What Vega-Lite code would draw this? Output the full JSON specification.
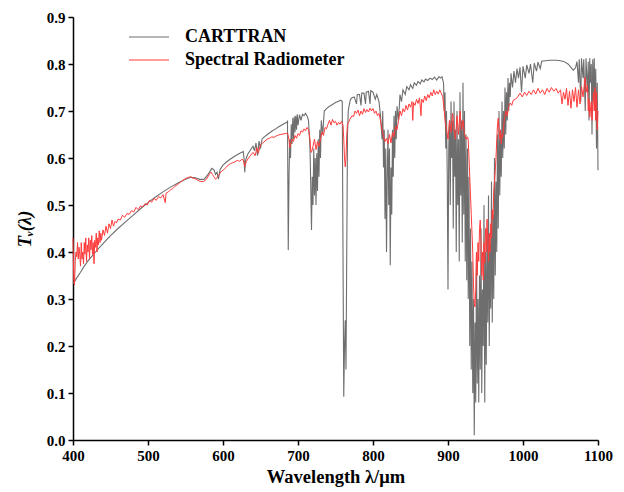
{
"$schema": "https://vega.github.io/schema/vega-lite/v6.json",
"autosize": "none",
"width": 525,
"height": 423,
"padding": {"left": 73, "top": 17, "right": 26, "bottom": 52},
"background": "white",
"datasets": {
"c": [[400,0.332],[405,0.345],[410,0.357],[415,0.37],[420,0.381],[430,0.4],[440,0.418],[450,0.435],[460,0.45],[470,0.464],[480,0.478],[490,0.492],[500,0.505],[510,0.517],[520,0.528],[530,0.538],[540,0.547],[550,0.555],[557,0.559],[563,0.558],[570,0.554],[575,0.555],[580,0.565],[585,0.578],[588,0.575],[590,0.565],[592,0.57],[594,0.555],[596,0.575],[598,0.58],[600,0.585],[605,0.592],[610,0.598],[615,0.603],[620,0.608],[625,0.612],[627,0.614],[628,0.6],[629,0.57],[630,0.595],[633,0.608],[637,0.618],[640,0.625],[642,0.615],[644,0.632],[646,0.605],[648,0.636],[650,0.62],[652,0.64],[655,0.645],[660,0.651],[665,0.657],[670,0.662],[675,0.667],[680,0.672],[685,0.676],[686,0.678],[687,0.404],[688,0.56],[689,0.64],[690,0.6],[691,0.672],[692,0.63],[693,0.685],[694,0.64],[695,0.688],[696,0.655],[697,0.69],[698,0.66],[699,0.693],[700,0.67],[702,0.692],[704,0.68],[706,0.693],[708,0.69],[710,0.695],[712,0.69],[714,0.68],[716,0.62],[717,0.54],[718,0.447],[719,0.56],[720,0.5],[721,0.62],[722,0.52],[723,0.6],[724,0.5],[725,0.61],[726,0.53],[727,0.64],[728,0.56],[729,0.66],[730,0.6],[731,0.68],[733,0.65],[735,0.7],[738,0.705],[742,0.71],[746,0.714],[750,0.718],[754,0.721],[757,0.723],[759,0.72],[760,0.4],[761,0.092],[762,0.2],[763,0.255],[764,0.15],[765,0.4],[766,0.65],[767,0.7],[768,0.71],[770,0.725],[772,0.728],[775,0.73],[778,0.715],[779,0.735],[782,0.735],[784,0.712],[785,0.738],[788,0.738],[790,0.715],[791,0.74],[794,0.742],[796,0.715],[797,0.743],[800,0.74],[803,0.725],[805,0.735],[808,0.72],[810,0.69],[812,0.64],[813,0.7],[814,0.58],[815,0.66],[816,0.47],[817,0.62],[818,0.4],[819,0.56],[820,0.66],[821,0.5],[822,0.62],[823,0.372],[824,0.58],[825,0.48],[826,0.66],[827,0.56],[828,0.69],[829,0.6],[830,0.7],[831,0.64],[832,0.71],[834,0.68],[836,0.735],[838,0.72],[840,0.745],[843,0.735],[845,0.752],[848,0.745],[850,0.756],[853,0.748],[855,0.76],[858,0.755],[860,0.763],[863,0.758],[865,0.766],[868,0.762],[870,0.768],[873,0.765],[876,0.77],[879,0.767],[882,0.772],[885,0.766],[888,0.773],[890,0.77],[892,0.773],[894,0.76],[895,0.7],[896,0.74],[897,0.62],[898,0.7],[899,0.56],[900,0.32],[901,0.62],[902,0.68],[903,0.5],[904,0.72],[905,0.6],[906,0.68],[907,0.45],[908,0.72],[909,0.56],[910,0.66],[911,0.4],[912,0.7],[913,0.5],[914,0.64],[915,0.38],[916,0.74],[917,0.52],[918,0.68],[919,0.42],[920,0.76],[921,0.48],[922,0.7],[923,0.38],[924,0.65],[925,0.34],[926,0.62],[927,0.3],[928,0.56],[929,0.2],[930,0.45],[931,0.15],[932,0.38],[933,0.1],[934,0.3],[935,0.01],[936,0.25],[937,0.08],[938,0.4],[939,0.12],[940,0.3],[941,0.08],[942,0.35],[943,0.15],[944,0.45],[945,0.1],[946,0.32],[947,0.2],[948,0.5],[949,0.08],[950,0.4],[951,0.16],[952,0.45],[953,0.25],[954,0.52],[955,0.2],[956,0.42],[957,0.28],[958,0.55],[959,0.25],[960,0.48],[961,0.3],[962,0.6],[963,0.35],[964,0.55],[965,0.4],[966,0.65],[967,0.45],[968,0.7],[969,0.52],[970,0.65],[971,0.56],[972,0.72],[973,0.6],[974,0.7],[975,0.62],[976,0.75],[977,0.65],[978,0.74],[979,0.68],[980,0.77],[981,0.7],[982,0.76],[983,0.73],[984,0.78],[986,0.75],[988,0.785],[990,0.76],[992,0.79],[994,0.77],[996,0.793],[998,0.74],[1000,0.795],[1003,0.77],[1005,0.798],[1008,0.78],[1010,0.8],[1013,0.76],[1015,0.802],[1018,0.785],[1020,0.804],[1023,0.79],[1025,0.806],[1030,0.807],[1035,0.808],[1040,0.808],[1045,0.808],[1050,0.807],[1055,0.805],[1060,0.8],[1064,0.793],[1067,0.787],[1070,0.792],[1072,0.805],[1074,0.76],[1075,0.81],[1077,0.72],[1078,0.812],[1080,0.77],[1081,0.81],[1083,0.7],[1084,0.812],[1086,0.74],[1087,0.805],[1088,0.68],[1089,0.812],[1090,0.76],[1091,0.8],[1092,0.65],[1093,0.81],[1094,0.72],[1095,0.812],[1096,0.7],[1097,0.79],[1098,0.62],[1099,0.76],[1100,0.574]],
"r": [[400,0.43],[401,0.34],[402,0.33],[403,0.38],[404,0.4],[405,0.39],[406,0.42],[407,0.385],[408,0.41],[409,0.395],[410,0.37],[411,0.42],[412,0.385],[413,0.4],[414,0.375],[415,0.42],[416,0.395],[417,0.43],[418,0.38],[419,0.415],[420,0.4],[421,0.43],[422,0.385],[423,0.425],[424,0.405],[425,0.435],[426,0.395],[427,0.42],[428,0.375],[429,0.425],[430,0.41],[431,0.44],[432,0.4],[433,0.43],[434,0.415],[435,0.445],[436,0.42],[437,0.44],[438,0.425],[440,0.447],[442,0.435],[444,0.455],[446,0.44],[448,0.46],[450,0.45],[452,0.468],[454,0.455],[456,0.465],[458,0.462],[460,0.47],[463,0.468],[466,0.478],[469,0.474],[472,0.482],[475,0.48],[478,0.488],[481,0.485],[484,0.495],[487,0.49],[490,0.498],[493,0.496],[496,0.503],[499,0.5],[502,0.51],[505,0.506],[508,0.514],[511,0.51],[514,0.518],[517,0.515],[520,0.522],[523,0.505],[524,0.525],[527,0.528],[530,0.532],[533,0.535],[536,0.54],[539,0.543],[542,0.547],[545,0.551],[548,0.554],[551,0.557],[554,0.559],[557,0.56],[560,0.557],[563,0.556],[566,0.553],[570,0.55],[574,0.55],[578,0.555],[582,0.566],[584,0.57],[586,0.565],[588,0.56],[590,0.555],[592,0.558],[595,0.565],[598,0.572],[601,0.575],[604,0.58],[607,0.585],[610,0.588],[613,0.59],[616,0.592],[619,0.595],[622,0.593],[625,0.597],[627,0.596],[629,0.582],[631,0.592],[634,0.6],[637,0.606],[640,0.612],[643,0.605],[645,0.622],[647,0.61],[650,0.628],[653,0.632],[656,0.636],[659,0.64],[662,0.642],[665,0.645],[668,0.644],[671,0.647],[674,0.649],[677,0.65],[680,0.651],[683,0.652],[686,0.653],[688,0.64],[689,0.622],[690,0.628],[692,0.64],[694,0.635],[696,0.648],[698,0.642],[700,0.652],[702,0.648],[704,0.658],[706,0.655],[708,0.662],[710,0.658],[712,0.665],[714,0.66],[716,0.64],[717,0.615],[718,0.612],[720,0.625],[722,0.64],[724,0.618],[726,0.635],[728,0.625],[730,0.64],[732,0.655],[734,0.648],[736,0.665],[738,0.662],[740,0.672],[742,0.68],[744,0.67],[746,0.682],[748,0.675],[750,0.678],[752,0.67],[754,0.676],[756,0.672],[758,0.678],[760,0.67],[761,0.64],[762,0.6],[763,0.581],[764,0.6],[765,0.65],[766,0.672],[768,0.678],[770,0.685],[772,0.69],[774,0.688],[776,0.7],[778,0.695],[780,0.702],[782,0.69],[784,0.7],[786,0.693],[788,0.705],[790,0.697],[792,0.703],[794,0.698],[796,0.706],[798,0.7],[800,0.705],[802,0.695],[804,0.7],[806,0.69],[808,0.695],[810,0.68],[812,0.66],[814,0.645],[816,0.635],[818,0.642],[820,0.63],[822,0.65],[824,0.632],[826,0.655],[828,0.645],[830,0.668],[832,0.66],[834,0.68],[836,0.7],[838,0.69],[840,0.705],[842,0.698],[844,0.712],[846,0.702],[848,0.715],[850,0.708],[852,0.72],[853,0.68],[854,0.718],[856,0.712],[858,0.725],[860,0.716],[862,0.728],[864,0.69],[865,0.725],[867,0.718],[869,0.732],[871,0.722],[873,0.735],[875,0.728],[877,0.74],[879,0.732],[881,0.745],[883,0.735],[885,0.742],[887,0.736],[889,0.745],[891,0.738],[893,0.73],[895,0.7],[896,0.68],[898,0.66],[900,0.64],[902,0.68],[904,0.655],[906,0.695],[908,0.66],[910,0.64],[912,0.69],[914,0.65],[916,0.7],[918,0.66],[920,0.68],[922,0.65],[924,0.64],[926,0.645],[927,0.638],[929,0.56],[931,0.48],[933,0.4],[934,0.33],[935,0.29],[936,0.283],[937,0.32],[938,0.4],[939,0.35],[940,0.42],[941,0.38],[942,0.45],[943,0.468],[944,0.42],[945,0.35],[946,0.4],[947,0.34],[948,0.42],[949,0.377],[950,0.45],[951,0.4],[952,0.47],[953,0.43],[954,0.38],[955,0.44],[956,0.4],[957,0.46],[958,0.43],[959,0.49],[960,0.47],[961,0.53],[962,0.55],[963,0.574],[964,0.6],[965,0.64],[966,0.67],[967,0.685],[968,0.66],[969,0.64],[970,0.66],[971,0.63],[972,0.65],[973,0.645],[975,0.68],[977,0.7],[979,0.69],[981,0.71],[983,0.717],[985,0.712],[987,0.723],[990,0.725],[993,0.73],[996,0.738],[999,0.73],[1002,0.74],[1005,0.733],[1008,0.742],[1011,0.735],[1014,0.745],[1017,0.736],[1020,0.748],[1023,0.738],[1026,0.745],[1029,0.735],[1032,0.748],[1035,0.74],[1038,0.75],[1041,0.742],[1044,0.748],[1047,0.738],[1050,0.745],[1052,0.715],[1054,0.74],[1056,0.725],[1058,0.748],[1060,0.712],[1062,0.742],[1064,0.706],[1066,0.745],[1068,0.72],[1070,0.75],[1072,0.708],[1074,0.745],[1076,0.715],[1078,0.752],[1080,0.73],[1082,0.76],[1083,0.772],[1084,0.74],[1086,0.755],[1087,0.7],[1088,0.725],[1089,0.687],[1091,0.72],[1092,0.68],[1094,0.74],[1095,0.7],[1096,0.75],[1097,0.68],[1098,0.74],[1099,0.66],[1100,0.7]]
},
"layer": [
{
"data": {"name": "c"},
"transform": [{"calculate": "datum[0]", "as": "w"}, {"calculate": "datum[1]", "as": "t"}, {"calculate": "'CARTTRAN'", "as": "s"}],
"mark": {"type": "line", "strokeWidth": 1.1},
"encoding": {
"x": {"field": "w", "type": "quantitative", "scale": {"domain": [400, 1100], "nice": false}, "axis": {"values": [400,500,600,700,800,900,1000,1100], "format": "d", "labelFlush": false, "title": "Wavelength λ/μm"}},
"y": {"field": "t", "type": "quantitative", "scale": {"domain": [0, 0.9], "nice": false}, "axis": {"values": [0,0.1,0.2,0.3,0.4,0.5,0.6,0.7,0.8,0.9], "format": ".1f", "labelFlush": false, "title": "Tᵥ(λ)", "titleFontStyle": "italic"}},
"color": {"field": "s", "type": "nominal", "scale": {"domain": ["CARTTRAN", "Spectral Radiometer"], "range": ["#6e6e6e", "#ff3b3b"]}, "legend": {"title": null, "orient": "none", "legendX": 67, "legendY": 11, "symbolType": "M-4,0H4", "symbolSize": 100, "symbolStrokeWidth": 1.2, "symbolFillColor": "transparent", "labelFont": "Liberation Serif", "labelFontWeight": "bold", "labelFontSize": 18, "labelColor": "black", "rowPadding": 5, "labelOffset": 27}}
}
},
{
"data": {"name": "r"},
"transform": [{"calculate": "datum[0]", "as": "w"}, {"calculate": "datum[1]", "as": "t"}, {"calculate": "'Spectral Radiometer'", "as": "s"}],
"mark": {"type": "line", "strokeWidth": 1},
"encoding": {
"x": {"field": "w", "type": "quantitative"},
"y": {"field": "t", "type": "quantitative"},
"color": {"field": "s", "type": "nominal"}
}
}
],
"config": {
"view": {"stroke": null},
"font": "Liberation Serif",
"axis": {"grid": false, "domainColor": "black", "domainWidth": 1.5, "tickColor": "black", "tickWidth": 1.5, "tickSize": 5, "labelFont": "Liberation Serif", "labelFontWeight": "bold", "labelFontSize": 15, "labelColor": "black", "titleFont": "Liberation Serif", "titleFontWeight": "bold", "titleFontSize": 18.5, "titleColor": "black", "labelPadding": 3},
"axisX": {"titlePadding": 4},
"axisY": {"titlePadding": 12}
}
}
